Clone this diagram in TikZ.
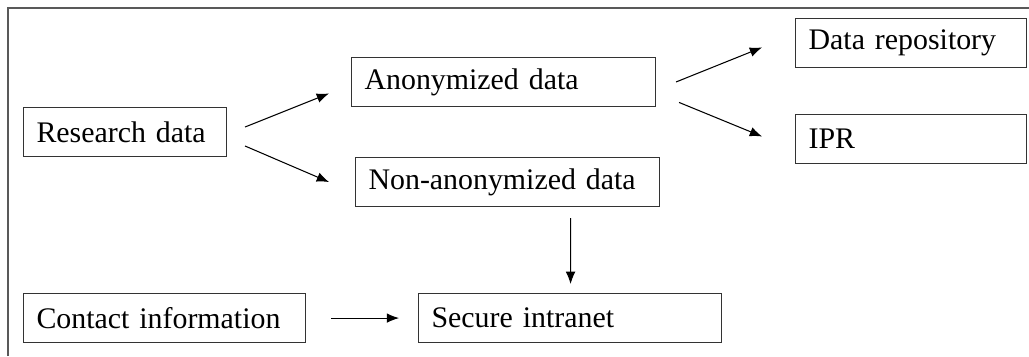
\documentclass[tikz,border=0pt]{standalone}
\usepackage{fontspec}
\setmainfont{Liberation Serif}
\usetikzlibrary{arrows.meta,positioning}

\begin{document}
\begin{tikzpicture}[>={Latex[length=7pt,width=5.5pt]}, line width=0.6pt,
    box/.style={draw=black!80, rectangle, minimum height=0.98cm, inner xsep=0.26cm, inner ysep=1pt, align=left, font=\fontsize{17}{20}\selectfont}]
    % Frame
    \useasboundingbox (0,0) rectangle (20.58,-7.12);
    \draw[line width=1.1pt, black!65] (0.16,-7.12) -- (0.16,-0.16) -- (20.58,-0.16);

    % Nodes
    \node[box, text width=3.54cm, anchor=west] (research) at (0.46,-2.64) {Research data};
    \node[box, text width=5.56cm, above right=0cm and 2.48cm of research] (anon) {Anonymized data};
    \node[box, text width=5.56cm, below right=0cm and 2.56cm of research] (nonanon) {Non-anonymized data};
    \node[box, text width=4.1cm, above right=-0.22cm and 2.78cm of anon] (repo) {Data repository};
    \node[box, text width=4.1cm, below right=0.14cm and 2.78cm of anon] (ipr) {IPR};
    \node[box, text width=5.12cm, below=2.72cm of research.south west, anchor=north west] (contact) {Contact information};
    \node[box, text width=5.54cm, right=2.24cm of contact] (intranet) {Secure intranet};

    % Connections
    \draw[->] ([xshift=0.36cm,yshift=0.1cm]research.east) -- ([xshift=-0.44cm,yshift=-0.23cm]anon.west);
    \draw[->] ([xshift=0.36cm,yshift=-0.28cm]research.east) -- ([xshift=-0.52cm]nonanon.west);
    \draw[->] ([xshift=0.4cm]anon.east) -- ([xshift=-0.66cm,yshift=-0.09cm]repo.west);
    \draw[->] ([xshift=0.46cm,yshift=-0.41cm]anon.east) -- ([xshift=-0.66cm,yshift=0.05cm]ipr.west);
    \draw[->] ([xshift=1.26cm,yshift=-0.22cm]nonanon.south) -- ([xshift=0.01cm,yshift=0.18cm]intranet.north);
    \draw[->] ([xshift=0.5cm]contact.east) -- ([xshift=-0.38cm]intranet.west);
\end{tikzpicture}
\end{document}
